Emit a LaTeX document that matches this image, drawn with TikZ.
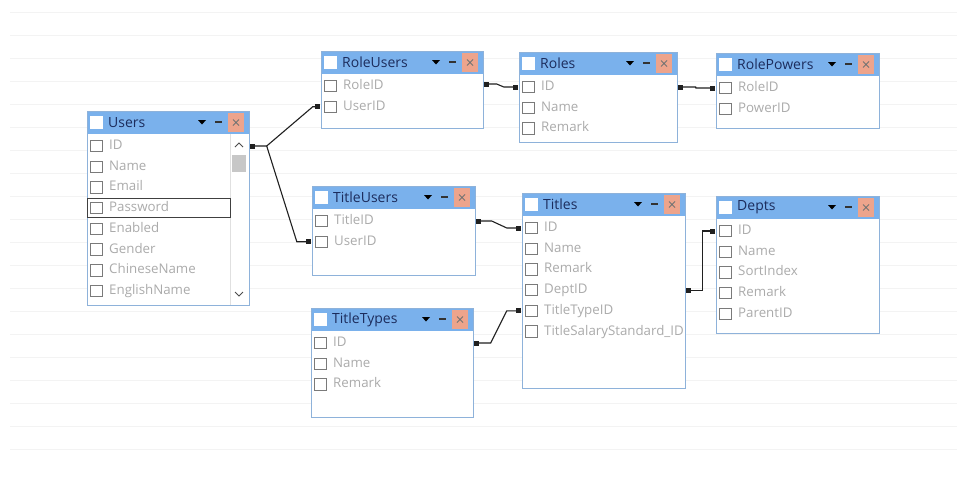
\documentclass[tikz,border=0pt]{standalone}
\usepackage{fontspec}
\setmainfont{Open Sans}
\usetikzlibrary{fit,calc,arrows.meta}
\definecolor{hdr}{HTML}{7AB1EC}
\definecolor{tborder}{HTML}{8EB2DA}
\definecolor{ttl}{HTML}{1C2C5C}
\definecolor{fld}{HTML}{ABABAB}
\definecolor{closec}{HTML}{EDA48C}
\definecolor{cbc}{HTML}{7A7A7A}
\definecolor{gridc}{HTML}{F3F3F3}
\definecolor{connc}{HTML}{202020}
\tikzset{
  tbox/.style={inner sep=0pt, fill=white},
  hbox/.style={inner sep=0pt, fill=hdr},
  ttltext/.style={inner sep=0pt, anchor=west, text=ttl, font=\fontsize{14}{16}\selectfont},
  fldtext/.style={inner sep=0pt, anchor=west, text=fld, font=\fontsize{13.3}{15}\selectfont, text height=10pt, text depth=3pt},
  cbox/.style={draw=cbc, line width=0.8pt, fill=white, minimum size=11.5pt, inner sep=0pt},
  conn/.style={draw=connc, line width=1.1pt, {Square[length=5pt,width=5pt]}-{Square[length=5pt,width=5pt]}},
  connend/.style={draw=connc, line width=1.1pt, -{Square[length=5pt,width=5pt]}},
}
% #1 name, #2 left, #3 top, #4 right, #5 bottom, #6 title, #7 fields
\newcommand\dbtable[7]{%
  \node[tbox, fit={(#2,#3) (#4,#5)}] (#1) {};
  \node[hbox, fit={(#2,#3) (#4,#3+23)}] (#1-h) {};
  \node[fill=white, minimum size=13pt, inner sep=0pt] (#1-ic) at (#2+9.5,#3+11.5) {};
  \node[ttltext] (#1-t) at (#2+21,#3+11.5) {#6};
  \fill[black] (#4-51,#3+9) -- (#4-43,#3+9) -- (#4-47,#3+13.5) -- cycle;
  \draw[line width=1.1pt, black!80] (#4-34,#3+11) -- (#4-27,#3+11);
  \fill[closec] (#4-21,#3+2) rectangle (#4-5,#3+21);
  \draw[line width=0.9pt, black!55] (#4-16,#3+8.5) -- (#4-10,#3+14.5) (#4-16,#3+14.5) -- (#4-10,#3+8.5);
  \begin{scope}
    \clip (#2,#3) rectangle (#4,#5);
    \foreach \f [count=\i] in {#7} {
      \node[cbox] (#1-c\i) at (#2+9.5,#3+35+\i*20.7-20.7) {};
      \node[fldtext] (#1-\i) at (#2+22,#3+35+\i*20.7-20.7) {\f};
    }
  \end{scope}
  \draw[tborder, line width=1pt] (#2,#3) rectangle (#4,#5);
}
\begin{document}
\begin{tikzpicture}[x=1pt,y=-1pt]
\useasboundingbox (0,0) rectangle (961,477);
\fill[white] (0,0) rectangle (961,477);
% faint background grid
\foreach \k in {0,...,19} \draw[gridc, line width=0.6pt] (10,12+23*\k) -- (957,12+23*\k);

% tables
\dbtable{Users}{87}{111}{249}{305}{Users}{ID,Name,Email,Password,Enabled,Gender,ChineseName,EnglishName}
% scrollbar of Users
\draw[black!12, line width=0.8pt] (230,134) -- (230,305);
\fill[black!22] (232,155) rectangle (246,172);
\draw[black!70, line width=1pt] (235,147) -- (239,143) -- (243,147);
\draw[black!70, line width=1pt] (235,292) -- (239,296) -- (243,292);
\draw[black!75, line width=1pt] (87,198) rectangle (230,217.5);

\dbtable{RoleUsers}{321}{51}{483}{128}{RoleUsers}{RoleID,UserID}
\dbtable{Roles}{519}{52}{677}{142}{Roles}{ID,Name,Remark}
\dbtable{RolePowers}{716}{53}{879}{128}{RolePowers}{RoleID,PowerID}
\dbtable{TitleUsers}{312}{186}{475}{275}{TitleUsers}{TitleID,UserID}
\dbtable{TitleTypes}{311}{308}{473}{417}{TitleTypes}{ID,Name,Remark}
\dbtable{Titles}{522}{193}{685}{388}{Titles}{ID,Name,Remark,DeptID,TitleTypeID,TitleSalaryStandard\_ID}
\dbtable{Depts}{716}{196}{879}{333}{Depts}{ID,Name,SortIndex,Remark,ParentID}

% connectors
\coordinate (uS) at ($(Users.east |- Users-1)+(0.5,0)$);
\draw[conn] (uS) -- ++(17,0) coordinate (uJ)
  -- ($(RoleUsers.west |- RoleUsers-2)+(-8,0)$) -- ($(RoleUsers.west |- RoleUsers-2)+(-0.5,0)$);
\draw[connend] (uJ) -- ($(TitleUsers.west |- TitleUsers-2)+(-15,0)$) -- ($(TitleUsers.west |- TitleUsers-2)+(-0.5,0)$);

\draw[conn] ($(RoleUsers.east |- RoleUsers-1)+(0.5,-2)$) -- ++(13,0)
  -- ($(Roles.west |- Roles-1)+(-15,0)$) -- ($(Roles.west |- Roles-1)+(-0.5,0)$);
\draw[conn] ($(Roles.east |- Roles-1)+(0.5,0)$) -- ++(18,0)
  -- ($(RolePowers.west |- RolePowers-1)+(-20,0)$) -- ($(RolePowers.west |- RolePowers-1)+(-0.5,0)$);
\draw[conn] ($(TitleUsers.east |- TitleUsers-1)+(0.5,0)$) -- ++(16,0)
  -- ($(Titles.west |- Titles-1)+(-15,0)$) -- ($(Titles.west |- Titles-1)+(-0.5,0)$);
\draw[conn] ($(TitleTypes.east |- TitleTypes-1)+(0.5,0)$) -- ++(17,0)
  -- ($(Titles.west |- Titles-5)+(-15,0)$) -- ($(Titles.west |- Titles-5)+(-0.5,0)$);
\draw[conn] ($(Titles.east |- Titles-4)+(0.5,0)$) -- ++(17,0) coordinate (dJ)
  -- (dJ |- Depts-1) -- ($(Depts.west |- Depts-1)+(-0.5,0)$);
\end{tikzpicture}
\end{document}
